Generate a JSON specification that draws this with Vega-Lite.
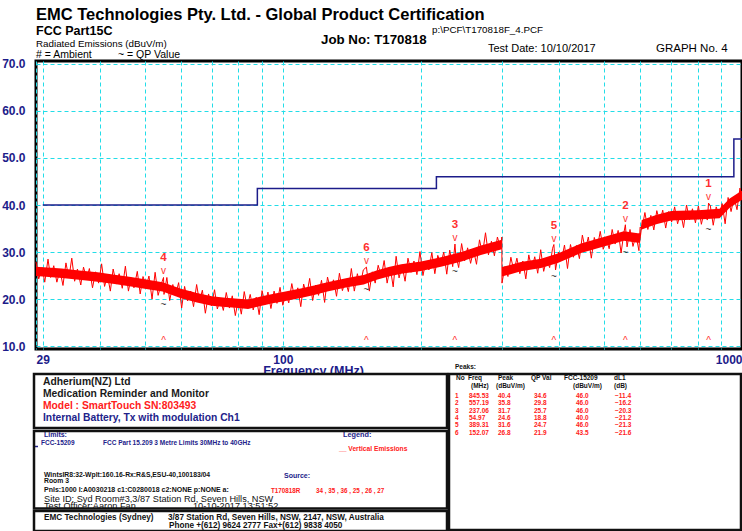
{
  "$schema": "https://vega.github.io/schema/vega-lite/v6.json",
  "padding": 0,
  "autosize": {"type": "pad"},
  "background": "white",
  "config": {"view": {"stroke": null}, "concat": {"spacing": 0}, "text": {"font": "Liberation Sans"}},
  "bounds": "flush",
  "spacing": 0,
  "datasets": {
    "trace": [
      {"f":29,"v":27.9},{"f":29.4,"v":24.3},{"f":29.9,"v":26.7},{"f":30.3,"v":23.6},{"f":30.8,"v":28.5},{"f":31.2,"v":24.6},{"f":31.7,"v":27.1},{"f":32.2,"v":23.6},{"f":32.7,"v":26.1},{"f":33.2,"v":22.9},
      {"f":33.7,"v":27.7},{"f":34.2,"v":24.5},{"f":34.7,"v":28.7},{"f":35.2,"v":23.8},{"f":35.7,"v":26.4},{"f":36.3,"v":23.0},{"f":36.8,"v":26.8},{"f":37.4,"v":24.3},{"f":37.9,"v":26.5},{"f":38.5,"v":22.4},
      {"f":39.1,"v":25.8},{"f":39.7,"v":23.4},{"f":40.3,"v":27.5},{"f":40.9,"v":22.7},{"f":41.5,"v":25.1},{"f":42.1,"v":21.7},{"f":42.7,"v":26.4},{"f":43.4,"v":23.2},{"f":44.0,"v":25.4},{"f":44.7,"v":22.3},
      {"f":45.4,"v":27.0},{"f":46.1,"v":21.7},{"f":46.7,"v":24.5},{"f":47.4,"v":22.4},{"f":48.2,"v":25.9},{"f":48.9,"v":21.1},{"f":49.6,"v":24.8},{"f":50.4,"v":22.7},{"f":51.1,"v":24.9},{"f":51.9,"v":20.0},
      {"f":52.7,"v":25.7},{"f":53.5,"v":20.8},{"f":54.3,"v":23.1},{"f":54.97,"v":24.6},{"f":55.1,"v":21.0},{"f":55.9,"v":24.6},{"f":56.7,"v":19.7},{"f":57.6,"v":23.1},{"f":58.4,"v":20.9},{"f":59.3,"v":23.5},
      {"f":60.2,"v":18.1},{"f":61.1,"v":22.7},{"f":62.0,"v":19.6},{"f":63.0,"v":21.7},{"f":63.9,"v":18.4},{"f":64.9,"v":23.1},{"f":65.8,"v":19.5},{"f":66.8,"v":21.9},{"f":67.8,"v":17.0},{"f":68.9,"v":21.1},
      {"f":69.9,"v":18.6},{"f":71.0,"v":22.0},{"f":72.0,"v":17.9},{"f":73.1,"v":20.1},{"f":74.2,"v":17.6},{"f":75.3,"v":21.4},{"f":76.5,"v":18.1},{"f":77.6,"v":20.7},{"f":78.8,"v":16.5},{"f":80.0,"v":20.0},
      {"f":81.2,"v":16.8},{"f":82.4,"v":21.6},{"f":83.6,"v":18.3},{"f":84.9,"v":21.0},{"f":86.2,"v":17.7},{"f":87.5,"v":20.4},{"f":88.8,"v":16.7},{"f":90.1,"v":21.8},{"f":91.5,"v":18.9},{"f":92.8,"v":21.5},
      {"f":94.2,"v":18.0},{"f":95.7,"v":21.7},{"f":97.1,"v":19.1},{"f":98.6,"v":22.5},{"f":100.0,"v":18.7},{"f":101.5,"v":21.3},{"f":103.0,"v":19.2},{"f":104.6,"v":23.3},{"f":106.2,"v":20.0},{"f":107.8,"v":22.4},
      {"f":109.4,"v":18.4},{"f":111.0,"v":23.2},{"f":112.7,"v":20.8},{"f":114.4,"v":24.4},{"f":116.1,"v":19.7},{"f":117.9,"v":23.0},{"f":119.6,"v":20.8},{"f":121.4,"v":24.0},{"f":123.3,"v":19.3},{"f":125.1,"v":24.7},
      {"f":127.0,"v":22.0},{"f":128.9,"v":24.1},{"f":130.9,"v":20.6},{"f":132.8,"v":25.5},{"f":134.8,"v":21.8},{"f":136.9,"v":23.9},{"f":138.9,"v":21.6},{"f":141.0,"v":26.5},{"f":143.1,"v":21.7},{"f":145.3,"v":25.4},
      {"f":147.5,"v":23.0},{"f":149.7,"v":26.2},{"f":152.07,"v":26.8},{"f":154.3,"v":21.7},{"f":156.6,"v":25.8},{"f":158.9,"v":23.4},{"f":161.3,"v":27.2},{"f":163.8,"v":24.8},{"f":166.2,"v":28.2},{"f":168.7,"v":23.4},
      {"f":171.3,"v":26.8},{"f":173.9,"v":22.6},{"f":176.5,"v":29.1},{"f":179.1,"v":24.5},{"f":181.8,"v":27.1},{"f":184.6,"v":23.8},{"f":187.3,"v":28.7},{"f":190.2,"v":25.7},{"f":193.0,"v":28.1},{"f":195.9,"v":25.2},
      {"f":198.9,"v":30.1},{"f":201.9,"v":25.0},{"f":204.9,"v":28.0},{"f":208.0,"v":26.2},{"f":211.1,"v":29.9},{"f":214.3,"v":25.4},{"f":217.5,"v":29.3},{"f":220.8,"v":27.4},{"f":224.1,"v":30.0},{"f":227.5,"v":25.3},
      {"f":230.9,"v":30.4},{"f":234.4,"v":26.9},{"f":237.06,"v":31.7},{"f":237.9,"v":29.6},{"f":241.5,"v":26.7},{"f":245.1,"v":31.8},{"f":248.8,"v":28.1},{"f":252.6,"v":30.9},{"f":256.4,"v":27.6},{"f":260.2,"v":30.4},
      {"f":264.1,"v":27.4},{"f":268.1,"v":32.6},{"f":272.2,"v":29.6},{"f":276.3,"v":34.1},{"f":280.4,"v":29.4},{"f":284.6,"v":32.3},{"f":288.9,"v":29.2},{"f":293.3,"v":33.2},{"f":297.7,"v":30.9},{"f":299.9,"v":33.2},
      {"f":300.1,"v":23.4},{"f":304.6,"v":26.9},{"f":309.2,"v":24.8},{"f":313.8,"v":28.9},{"f":318.6,"v":25.9},{"f":323.4,"v":28.7},{"f":328.2,"v":25.4},{"f":333.2,"v":28.1},{"f":338.2,"v":24.3},{"f":343.3,"v":29.4},
      {"f":348.4,"v":26.4},{"f":353.7,"v":29.0},{"f":359.0,"v":25.5},{"f":364.4,"v":30.5},{"f":369.9,"v":25.9},{"f":375.4,"v":28.5},{"f":381.1,"v":26.7},{"f":386.8,"v":30.8},{"f":389.31,"v":31.6},{"f":392.6,"v":26.2},
      {"f":398.5,"v":30.0},{"f":404.5,"v":28.3},{"f":410.6,"v":31.5},{"f":416.8,"v":26.5},{"f":423.1,"v":31.6},{"f":429.4,"v":28.9},{"f":435.9,"v":31.4},{"f":442.5,"v":28.6},{"f":449.1,"v":33.6},{"f":455.9,"v":30.5},
      {"f":462.7,"v":33.2},{"f":469.7,"v":28.7},{"f":476.8,"v":33.1},{"f":484.0,"v":30.9},{"f":491.2,"v":34.4},{"f":498.6,"v":30.6},{"f":506.1,"v":33.0},{"f":513.7,"v":30.7},{"f":521.5,"v":34.8},{"f":529.3,"v":31.7},
      {"f":537.3,"v":34.6},{"f":545.3,"v":29.8},{"f":553.5,"v":34.3},{"f":557.19,"v":35.8},{"f":561.9,"v":31.1},{"f":570.3,"v":34.8},{"f":578.9,"v":31.2},{"f":587.6,"v":33.6},{"f":596.4,"v":30.3},{"f":599.9,"v":35.3},
      {"f":605.4,"v":34.9},{"f":614.5,"v":38.4},{"f":623.7,"v":34.8},{"f":633.1,"v":37.8},{"f":642.6,"v":34.7},{"f":652.3,"v":38.8},{"f":662.1,"v":36.4},{"f":672.0,"v":38.9},{"f":682.1,"v":35.1},{"f":692.3,"v":38.6},
      {"f":702.7,"v":36.4},{"f":713.3,"v":39.6},{"f":724.0,"v":36.0},{"f":734.9,"v":38.5},{"f":745.9,"v":35.2},{"f":757.1,"v":40.0},{"f":768.5,"v":36.9},{"f":780.0,"v":39.2},{"f":791.7,"v":36.2},{"f":803.6,"v":39.8},
      {"f":815.7,"v":35.9},{"f":827.9,"v":38.8},{"f":840.3,"v":36.8},{"f":845.53,"v":40.4},{"f":852.9,"v":39.9},{"f":865.7,"v":35.7},{"f":878.7,"v":39.6},{"f":891.9,"v":37.7},{"f":905.3,"v":40.3},{"f":918.9,"v":36.0},
      {"f":932.7,"v":41.6},{"f":946.7,"v":38.6},{"f":960.9,"v":41.6},{"f":975.3,"v":39.0},{"f":990.0,"v":43.6},{"f":1000,"v":41.0}
    ],
    "band": [
      {"f":29,"lo":24.9,"hi":26.9},{"f":33,"lo":24.5,"hi":26.5},{"f":36,"lo":24.1,"hi":26.1},{"f":39.5,"lo":23.7,"hi":25.7},{"f":43,"lo":23.2,"hi":25.2},
      {"f":46.7,"lo":22.7,"hi":24.7},{"f":50,"lo":22.2,"hi":24.2},{"f":54.7,"lo":21.6,"hi":23.6},{"f":60,"lo":20.2,"hi":22.2},{"f":65,"lo":19.3,"hi":21.3},
      {"f":70,"lo":18.6,"hi":20.6},{"f":75,"lo":18.3,"hi":20.3},{"f":80,"lo":18.1,"hi":20.1},{"f":84,"lo":17.9,"hi":19.9},{"f":90,"lo":18.6,"hi":20.6},
      {"f":95,"lo":19.1,"hi":21.1},{"f":100,"lo":19.5,"hi":21.5},{"f":110,"lo":20.3,"hi":22.3},{"f":117,"lo":20.9,"hi":22.9},{"f":125,"lo":21.6,"hi":23.6},
      {"f":138,"lo":22.5,"hi":24.5},{"f":150,"lo":23.1,"hi":25.1},{"f":160,"lo":24.1,"hi":26.1},{"f":170,"lo":24.8,"hi":26.8},{"f":181,"lo":25.4,"hi":27.4},
      {"f":200,"lo":26.0,"hi":28.0},{"f":221,"lo":26.9,"hi":28.9},{"f":245,"lo":28.0,"hi":30.0},{"f":270,"lo":29.4,"hi":31.4},{"f":299.9,"lo":30.6,"hi":32.6},
      {"f":300.1,"lo":24.8,"hi":26.8},{"f":330,"lo":25.9,"hi":27.9},{"f":365,"lo":26.6,"hi":28.6},{"f":397,"lo":27.7,"hi":29.7},{"f":446,"lo":29.8,"hi":31.8},
      {"f":500,"lo":31.2,"hi":33.2},{"f":553,"lo":32.4,"hi":34.4},{"f":593,"lo":32.0,"hi":34.0},{"f":599.9,"lo":32.0,"hi":34.0},{"f":605,"lo":34.8,"hi":36.8},
      {"f":650,"lo":35.9,"hi":37.9},{"f":701,"lo":36.7,"hi":38.7},{"f":802,"lo":36.9,"hi":38.9},{"f":894,"lo":37.2,"hi":39.2},{"f":940,"lo":39.4,"hi":41.4},
      {"f":1000,"lo":41.1,"hi":43.1}
    ],
    "limit": [
      {"f":30,"lim":40},{"f":88,"lim":43.5},{"f":216,"lim":46},{"f":960,"lim":54},{"f":1000,"lim":54}
    ],
    "peaks": [
      {"No":1,"Freq":845.53,"Peak":40.4,"QP":34.6,"FCC":46.0,"dL1":-11.4},
      {"No":2,"Freq":557.19,"Peak":35.8,"QP":29.8,"FCC":46.0,"dL1":-16.2},
      {"No":3,"Freq":237.06,"Peak":31.7,"QP":25.7,"FCC":46.0,"dL1":-20.3},
      {"No":4,"Freq":54.97,"Peak":24.6,"QP":18.8,"FCC":40.0,"dL1":-21.2},
      {"No":5,"Freq":389.31,"Peak":31.6,"QP":24.7,"FCC":46.0,"dL1":-21.3},
      {"No":6,"Freq":152.07,"Peak":26.8,"QP":21.9,"FCC":43.5,"dL1":-21.6}
    ],
    "blank": [{}]
  },
  "vconcat": [
    {
      "width": 706, "height": 61,
      "data": {"name": "blank"},
      "layer": [
        {"mark": {"type": "text", "text": "EMC Technologies Pty. Ltd. -  Global Product Certification", "align": "left", "baseline": "middle", "fontSize": 16.5, "fontWeight": "bold", "color": "#000"},
         "encoding": {"x": {"datum": 35, "type": "quantitative", "scale": {"domain": [35, 741], "nice": false, "zero": false}, "axis": null}, "y": {"datum": 14.5, "type": "quantitative", "scale": {"domain": [0, 61], "reverse": true, "nice": false, "zero": false}, "axis": null}}},
        {"mark": {"type": "text", "text": "FCC Part15C", "align": "left", "baseline": "middle", "fontSize": 12.5, "fontWeight": "bold", "color": "#000"},
         "encoding": {"x": {"datum": 35, "type": "quantitative"}, "y": {"datum": 31, "type": "quantitative"}}},
        {"mark": {"type": "text", "text": "Radiated Emissions (dBuV/m)", "align": "left", "baseline": "middle", "fontSize": 9.8, "color": "#000"},
         "encoding": {"x": {"datum": 35, "type": "quantitative"}, "y": {"datum": 43.5, "type": "quantitative"}}},
        {"mark": {"type": "text", "text": "# = Ambient", "align": "left", "baseline": "middle", "fontSize": 10.5, "color": "#000"},
         "encoding": {"x": {"datum": 35, "type": "quantitative"}, "y": {"datum": 54.5, "type": "quantitative"}}},
        {"mark": {"type": "text", "text": "~ = QP Value", "align": "left", "baseline": "middle", "fontSize": 10.5, "color": "#000"},
         "encoding": {"x": {"datum": 117, "type": "quantitative"}, "y": {"datum": 54.5, "type": "quantitative"}}},
        {"mark": {"type": "text", "text": "Job No: T170818", "align": "left", "baseline": "middle", "fontSize": 13.3, "fontWeight": "bold", "color": "#000"},
         "encoding": {"x": {"datum": 320, "type": "quantitative"}, "y": {"datum": 39.5, "type": "quantitative"}}},
        {"mark": {"type": "text", "text": "p:\\PCF\\T170818F_4.PCF", "align": "left", "baseline": "middle", "fontSize": 9.8, "color": "#000"},
         "encoding": {"x": {"datum": 431, "type": "quantitative"}, "y": {"datum": 30, "type": "quantitative"}}},
        {"mark": {"type": "text", "text": "Test Date: 10/10/2017", "align": "left", "baseline": "middle", "fontSize": 11, "color": "#000"},
         "encoding": {"x": {"datum": 487, "type": "quantitative"}, "y": {"datum": 48.5, "type": "quantitative"}}},
        {"mark": {"type": "text", "text": "GRAPH No.  4", "align": "left", "baseline": "middle", "fontSize": 11.5, "color": "#000"},
         "encoding": {"x": {"datum": 655, "type": "quantitative"}, "y": {"datum": 48.5, "type": "quantitative"}}}
      ]
    },
    {
      "width": 706, "height": 288,
      "view": {"stroke": "#000", "strokeWidth": 3},
      "layer": [
        {"data": {"name": "limit"},
         "mark": {"type": "line", "color": "#1c1c8a", "strokeWidth": 1.5, "interpolate": "step-after"},
         "encoding": {
           "x": {"field": "f", "type": "quantitative", "scale": {"type": "log", "domain": [29, 1000], "nice": false},
                 "axis": {"values": [29, 30, 40, 50, 60, 70, 80, 90, 100, 200, 300, 400, 500, 600, 700, 800, 900, 1000], "format": "d",
                          "labelExpr": "datum.value == 29 || datum.value == 100 || datum.value == 1000 ? datum.label : ''",
                          "grid": true, "gridColor": "#22dde8", "gridDash": [4, 3], "gridWidth": 1, "domain": false, "ticks": false, "tickSize": 0,
                          "labelFlush": true, "labelOverlap": false, "labelPadding": 5, "labelFont": "Liberation Sans", "labelFontWeight": "bold", "labelFontSize": 12, "labelColor": "#1c1c8a",
                          "title": "Frequency (MHz)", "titleFont": "Liberation Sans", "titleFontSize": 12.5, "titleFontWeight": "bold", "titleColor": "#1c1c8a",
                          "titleX": 277, "titleY": 21, "titleAlign": "center", "titleBaseline": "middle", "titleAnchor": null}},
           "y": {"field": "lim", "type": "quantitative", "scale": {"domain": [9.4, 70.6], "nice": false, "zero": false},
                 "axis": {"values": [10, 20, 30, 40, 50, 60, 70], "format": ".1f", "grid": true, "gridColor": "#22dde8", "gridDash": [4, 3], "gridWidth": 1,
                          "domain": false, "ticks": false, "tickSize": 0, "labelPadding": 11, "labelFont": "Liberation Sans", "labelFontWeight": "bold", "labelFontSize": 12, "labelColor": "#1c1c8a", "title": null}}
         }},
        {"data": {"name": "band"},
         "mark": {"type": "area", "color": "#ff0000", "opacity": 1},
         "encoding": {"x": {"field": "f", "type": "quantitative"}, "y": {"field": "lo", "type": "quantitative"}, "y2": {"field": "hi"}}},
        {"data": {"name": "trace"},
         "mark": {"type": "line", "color": "#ff0000", "strokeWidth": 1},
         "encoding": {"x": {"field": "f", "type": "quantitative"}, "y": {"field": "v", "type": "quantitative"}}},
        {"data": {"name": "peaks"},
         "mark": {"type": "text", "align": "center", "baseline": "middle", "dy": -19, "fontSize": 11.5, "fontWeight": "bold", "color": "#ff3030"},
         "encoding": {"x": {"field": "Freq", "type": "quantitative"}, "y": {"field": "Peak", "type": "quantitative"}, "text": {"field": "No", "type": "nominal"}}},
        {"data": {"name": "peaks"},
         "mark": {"type": "text", "text": "v", "align": "center", "baseline": "middle", "dy": -6, "fontSize": 10, "color": "#ff3030"},
         "encoding": {"x": {"field": "Freq", "type": "quantitative"}, "y": {"field": "Peak", "type": "quantitative"}}},
        {"data": {"name": "peaks"},
         "mark": {"type": "text", "text": "~", "align": "center", "baseline": "middle", "fontSize": 10, "color": "#333333"},
         "encoding": {"x": {"field": "Freq", "type": "quantitative"}, "y": {"field": "QP", "type": "quantitative"}}},
        {"data": {"name": "peaks"},
         "mark": {"type": "text", "text": "^", "align": "center", "baseline": "middle", "fontSize": 10, "color": "#ff3030"},
         "encoding": {"x": {"field": "Freq", "type": "quantitative"}, "y": {"datum": 11.2, "type": "quantitative"}}}
      ]
    },
    {
      "width": 706, "height": 182,
      "data": {"name": "blank"},
      "resolve": {"scale": {"y": "independent"}},
      "layer": [
        {
          "layer": [
            {"mark": {"type": "rect", "fill": "white", "stroke": "#111", "strokeWidth": 2.5},
             "encoding": {"x": {"datum": 33, "type": "quantitative", "scale": {"domain": [35, 741], "nice": false, "zero": false}, "axis": null}, "x2": {"datum": 446},
                          "y": {"datum": 374, "type": "quantitative", "scale": {"domain": [349, 531], "reverse": true, "nice": false, "zero": false}, "axis": null}, "y2": {"datum": 428}}},
            {"mark": {"type": "rect", "fill": "white", "stroke": "#111", "strokeWidth": 2.5},
             "encoding": {"x": {"datum": 448, "type": "quantitative"}, "x2": {"datum": 740}, "y": {"datum": 374, "type": "quantitative"}, "y2": {"datum": 530}}},
            {"mark": {"type": "text", "text": "Adherium(NZ) Ltd", "align": "left", "baseline": "middle", "fontSize": 10.3, "fontWeight": "bold", "color": "#1a1a1a"},
             "encoding": {"x": {"datum": 42, "type": "quantitative"}, "y": {"datum": 381.5, "type": "quantitative"}}},
            {"mark": {"type": "text", "text": "Medication Reminder and Monitor", "align": "left", "baseline": "middle", "fontSize": 10.3, "fontWeight": "bold", "color": "#1a1a1a"},
             "encoding": {"x": {"datum": 42, "type": "quantitative"}, "y": {"datum": 394, "type": "quantitative"}}},
            {"mark": {"type": "text", "text": "Model : SmartTouch   SN:803493", "align": "left", "baseline": "middle", "fontSize": 10.3, "fontWeight": "bold", "color": "#ff2020"},
             "encoding": {"x": {"datum": 42, "type": "quantitative"}, "y": {"datum": 406, "type": "quantitative"}}},
            {"mark": {"type": "text", "text": "Internal Battery,  Tx with modulation Ch1", "align": "left", "baseline": "middle", "fontSize": 10.3, "fontWeight": "bold", "color": "#22228a"},
             "encoding": {"x": {"datum": 42, "type": "quantitative"}, "y": {"datum": 418, "type": "quantitative"}}},
            {"mark": {"type": "text", "text": "Peaks:", "align": "left", "baseline": "middle", "fontSize": 6.5, "fontWeight": "bold", "color": "#111"},
             "encoding": {"x": {"datum": 454, "type": "quantitative"}, "y": {"datum": 367, "type": "quantitative"}}},
            {"mark": {"type": "text", "text": "Limits:", "align": "left", "baseline": "middle", "fontSize": 7, "fontWeight": "bold", "color": "#22228a"},
             "encoding": {"x": {"datum": 43, "type": "quantitative"}, "y": {"datum": 434.5, "type": "quantitative"}}},
            {"mark": {"type": "rule", "color": "#22228a", "strokeWidth": 1.5},
             "encoding": {"x": {"datum": 33, "type": "quantitative"}, "x2": {"datum": 37}, "y": {"datum": 446.5, "type": "quantitative"}}},
            {"mark": {"type": "text", "text": "FCC-15209", "align": "left", "baseline": "middle", "fontSize": 6.5, "fontWeight": "bold", "color": "#22228a"},
             "encoding": {"x": {"datum": 40, "type": "quantitative"}, "y": {"datum": 443, "type": "quantitative"}}},
            {"mark": {"type": "text", "text": "FCC Part 15.209 3 Metre Limits 30MHz to 40GHz", "align": "left", "baseline": "middle", "fontSize": 6.5, "fontWeight": "bold", "color": "#22228a"},
             "encoding": {"x": {"datum": 102, "type": "quantitative"}, "y": {"datum": 443, "type": "quantitative"}}},
            {"mark": {"type": "text", "text": "Legend:", "align": "left", "baseline": "middle", "fontSize": 7.3, "fontWeight": "bold", "color": "#22228a"},
             "encoding": {"x": {"datum": 342, "type": "quantitative"}, "y": {"datum": 435, "type": "quantitative"}}},
            {"mark": {"type": "text", "text": "__ Vertical Emissions", "align": "left", "baseline": "middle", "fontSize": 6.7, "fontWeight": "bold", "color": "#ff2020"},
             "encoding": {"x": {"datum": 338, "type": "quantitative"}, "y": {"datum": 449, "type": "quantitative"}}},
            {"mark": {"type": "text", "text": "WintsIR8:32-Wplt:160.16-Rx:R&S,ESU-40,100183/04", "align": "left", "baseline": "middle", "fontSize": 6.8, "fontWeight": "bold", "color": "#111"},
             "encoding": {"x": {"datum": 43, "type": "quantitative"}, "y": {"datum": 474.5, "type": "quantitative"}}},
            {"mark": {"type": "text", "text": "Room 3", "align": "left", "baseline": "middle", "fontSize": 6.8, "fontWeight": "bold", "color": "#111"},
             "encoding": {"x": {"datum": 43, "type": "quantitative"}, "y": {"datum": 481, "type": "quantitative"}}},
            {"mark": {"type": "text", "text": "Source:", "align": "left", "baseline": "middle", "fontSize": 7, "fontWeight": "bold", "color": "#22228a"},
             "encoding": {"x": {"datum": 283, "type": "quantitative"}, "y": {"datum": 476, "type": "quantitative"}}},
            {"mark": {"type": "text", "text": "Pnls:1000 I:A0030218 c1:C0280018  c2:NONE p:NONE a:", "align": "left", "baseline": "middle", "fontSize": 7, "fontWeight": "bold", "color": "#111"},
             "encoding": {"x": {"datum": 43, "type": "quantitative"}, "y": {"datum": 490, "type": "quantitative"}}},
            {"mark": {"type": "text", "text": "T170818R", "align": "left", "baseline": "middle", "fontSize": 6.3, "fontWeight": "bold", "color": "#ff2020"},
             "encoding": {"x": {"datum": 270, "type": "quantitative"}, "y": {"datum": 491, "type": "quantitative"}}},
            {"mark": {"type": "text", "text": "34 , 35 , 36 , 25 , 26 , 27", "align": "left", "baseline": "middle", "fontSize": 6.3, "fontWeight": "bold", "color": "#ff2020"},
             "encoding": {"x": {"datum": 315, "type": "quantitative"}, "y": {"datum": 491, "type": "quantitative"}}},
            {"mark": {"type": "text", "text": "Site ID: Syd Room#3,3/87 Station Rd, Seven Hills, NSW", "align": "left", "baseline": "middle", "fontSize": 9.2, "color": "#111"},
             "encoding": {"x": {"datum": 43, "type": "quantitative"}, "y": {"datum": 499, "type": "quantitative"}}},
            {"mark": {"type": "text", "text": "Test Officer:Aaron Fan", "align": "left", "baseline": "middle", "fontSize": 9.2, "color": "#111"},
             "encoding": {"x": {"datum": 43, "type": "quantitative"}, "y": {"datum": 506, "type": "quantitative"}}},
            {"mark": {"type": "text", "text": "10-10-2017 13:51:52", "align": "left", "baseline": "middle", "fontSize": 9.2, "color": "#111"},
             "encoding": {"x": {"datum": 192, "type": "quantitative"}, "y": {"datum": 506, "type": "quantitative"}}},
            {"mark": {"type": "rect", "fill": null, "filled": false, "stroke": "#111", "strokeWidth": 2.5},
             "encoding": {"x": {"datum": 33, "type": "quantitative"}, "x2": {"datum": 446}, "y": {"datum": 431, "type": "quantitative"}, "y2": {"datum": 508.5}}},
            {"mark": {"type": "rect", "fill": "white", "stroke": "#111", "strokeWidth": 2.5},
             "encoding": {"x": {"datum": 33, "type": "quantitative"}, "x2": {"datum": 446}, "y": {"datum": 511, "type": "quantitative"}, "y2": {"datum": 531}}},
            {"mark": {"type": "text", "text": "EMC Technologies (Sydney)", "align": "left", "baseline": "middle", "fontSize": 8.2, "fontWeight": "bold", "color": "#111"},
             "encoding": {"x": {"datum": 43, "type": "quantitative"}, "y": {"datum": 518, "type": "quantitative"}}},
            {"mark": {"type": "text", "text": "3/87 Station Rd, Seven Hills, NSW, 2147, NSW, Australia", "align": "left", "baseline": "middle", "fontSize": 8.2, "fontWeight": "bold", "color": "#111"},
             "encoding": {"x": {"datum": 167, "type": "quantitative"}, "y": {"datum": 518, "type": "quantitative"}}},
            {"mark": {"type": "text", "text": "Phone +(612) 9624 2777 Fax+(612) 9838 4050", "align": "left", "baseline": "middle", "fontSize": 8.2, "fontWeight": "bold", "color": "#111"},
             "encoding": {"x": {"datum": 168, "type": "quantitative"}, "y": {"datum": 525.5, "type": "quantitative"}}},
            {"mark": {"type": "text", "text": "No", "align": "left", "baseline": "middle", "fontSize": 6.5, "fontWeight": "bold", "color": "#111"},
             "encoding": {"x": {"datum": 455, "type": "quantitative"}, "y": {"datum": 378, "type": "quantitative"}}},
            {"mark": {"type": "text", "text": "Freq", "align": "left", "baseline": "middle", "fontSize": 6.5, "fontWeight": "bold", "color": "#111"},
             "encoding": {"x": {"datum": 467, "type": "quantitative"}, "y": {"datum": 378, "type": "quantitative"}}},
            {"mark": {"type": "text", "text": "Peak", "align": "left", "baseline": "middle", "fontSize": 6.5, "fontWeight": "bold", "color": "#111"},
             "encoding": {"x": {"datum": 497, "type": "quantitative"}, "y": {"datum": 378, "type": "quantitative"}}},
            {"mark": {"type": "text", "text": "QP Val", "align": "left", "baseline": "middle", "fontSize": 6.5, "fontWeight": "bold", "color": "#111"},
             "encoding": {"x": {"datum": 530, "type": "quantitative"}, "y": {"datum": 378, "type": "quantitative"}}},
            {"mark": {"type": "text", "text": "FCC-15209", "align": "left", "baseline": "middle", "fontSize": 6.5, "fontWeight": "bold", "color": "#111"},
             "encoding": {"x": {"datum": 563, "type": "quantitative"}, "y": {"datum": 378, "type": "quantitative"}}},
            {"mark": {"type": "text", "text": "dL1", "align": "left", "baseline": "middle", "fontSize": 6.5, "fontWeight": "bold", "color": "#111"},
             "encoding": {"x": {"datum": 613, "type": "quantitative"}, "y": {"datum": 378, "type": "quantitative"}}},
            {"mark": {"type": "text", "text": "(MHz)", "align": "left", "baseline": "middle", "fontSize": 6.5, "fontWeight": "bold", "color": "#111"},
             "encoding": {"x": {"datum": 470, "type": "quantitative"}, "y": {"datum": 385.5, "type": "quantitative"}}},
            {"mark": {"type": "text", "text": "(dBuV/m)", "align": "left", "baseline": "middle", "fontSize": 6.5, "fontWeight": "bold", "color": "#111"},
             "encoding": {"x": {"datum": 495, "type": "quantitative"}, "y": {"datum": 385.5, "type": "quantitative"}}},
            {"mark": {"type": "text", "text": "(dBuV/m)", "align": "left", "baseline": "middle", "fontSize": 6.5, "fontWeight": "bold", "color": "#111"},
             "encoding": {"x": {"datum": 572, "type": "quantitative"}, "y": {"datum": 385.5, "type": "quantitative"}}},
            {"mark": {"type": "text", "text": "(dB)", "align": "left", "baseline": "middle", "fontSize": 6.5, "fontWeight": "bold", "color": "#111"},
             "encoding": {"x": {"datum": 613, "type": "quantitative"}, "y": {"datum": 385.5, "type": "quantitative"}}}
          ]
        },
        {
          "data": {"name": "peaks"},
          "layer": [
            {"mark": {"type": "text", "align": "left", "baseline": "middle", "fontSize": 6.5, "fontWeight": "bold", "color": "#ff2020"},
             "encoding": {"x": {"datum": 454, "type": "quantitative", "scale": {"domain": [35, 741], "nice": false, "zero": false}}, "y": {"field": "No", "type": "quantitative", "scale": {"domain": [-5.44, 19.49], "reverse": true, "nice": false, "zero": false}, "axis": null}, "text": {"field": "No", "type": "nominal"}}},
            {"mark": {"type": "text", "align": "left", "baseline": "middle", "fontSize": 6.5, "fontWeight": "bold", "color": "#ff2020"},
             "encoding": {"x": {"datum": 468, "type": "quantitative"}, "y": {"field": "No", "type": "quantitative"}, "text": {"field": "Freq", "type": "quantitative", "format": ".2f"}}},
            {"mark": {"type": "text", "align": "left", "baseline": "middle", "fontSize": 6.5, "fontWeight": "bold", "color": "#ff2020"},
             "encoding": {"x": {"datum": 497, "type": "quantitative"}, "y": {"field": "No", "type": "quantitative"}, "text": {"field": "Peak", "type": "quantitative", "format": ".1f"}}},
            {"mark": {"type": "text", "align": "left", "baseline": "middle", "fontSize": 6.5, "fontWeight": "bold", "color": "#ff2020"},
             "encoding": {"x": {"datum": 533, "type": "quantitative"}, "y": {"field": "No", "type": "quantitative"}, "text": {"field": "QP", "type": "quantitative", "format": ".1f"}}},
            {"mark": {"type": "text", "align": "left", "baseline": "middle", "fontSize": 6.5, "fontWeight": "bold", "color": "#ff2020"},
             "encoding": {"x": {"datum": 575, "type": "quantitative"}, "y": {"field": "No", "type": "quantitative"}, "text": {"field": "FCC", "type": "quantitative", "format": ".1f"}}},
            {"mark": {"type": "text", "align": "left", "baseline": "middle", "fontSize": 6.5, "fontWeight": "bold", "color": "#ff2020"},
             "encoding": {"x": {"datum": 614, "type": "quantitative"}, "y": {"field": "No", "type": "quantitative"}, "text": {"field": "dL1", "type": "quantitative", "format": ".1f"}}}
          ]
        }
      ]
    }
  ]
}
